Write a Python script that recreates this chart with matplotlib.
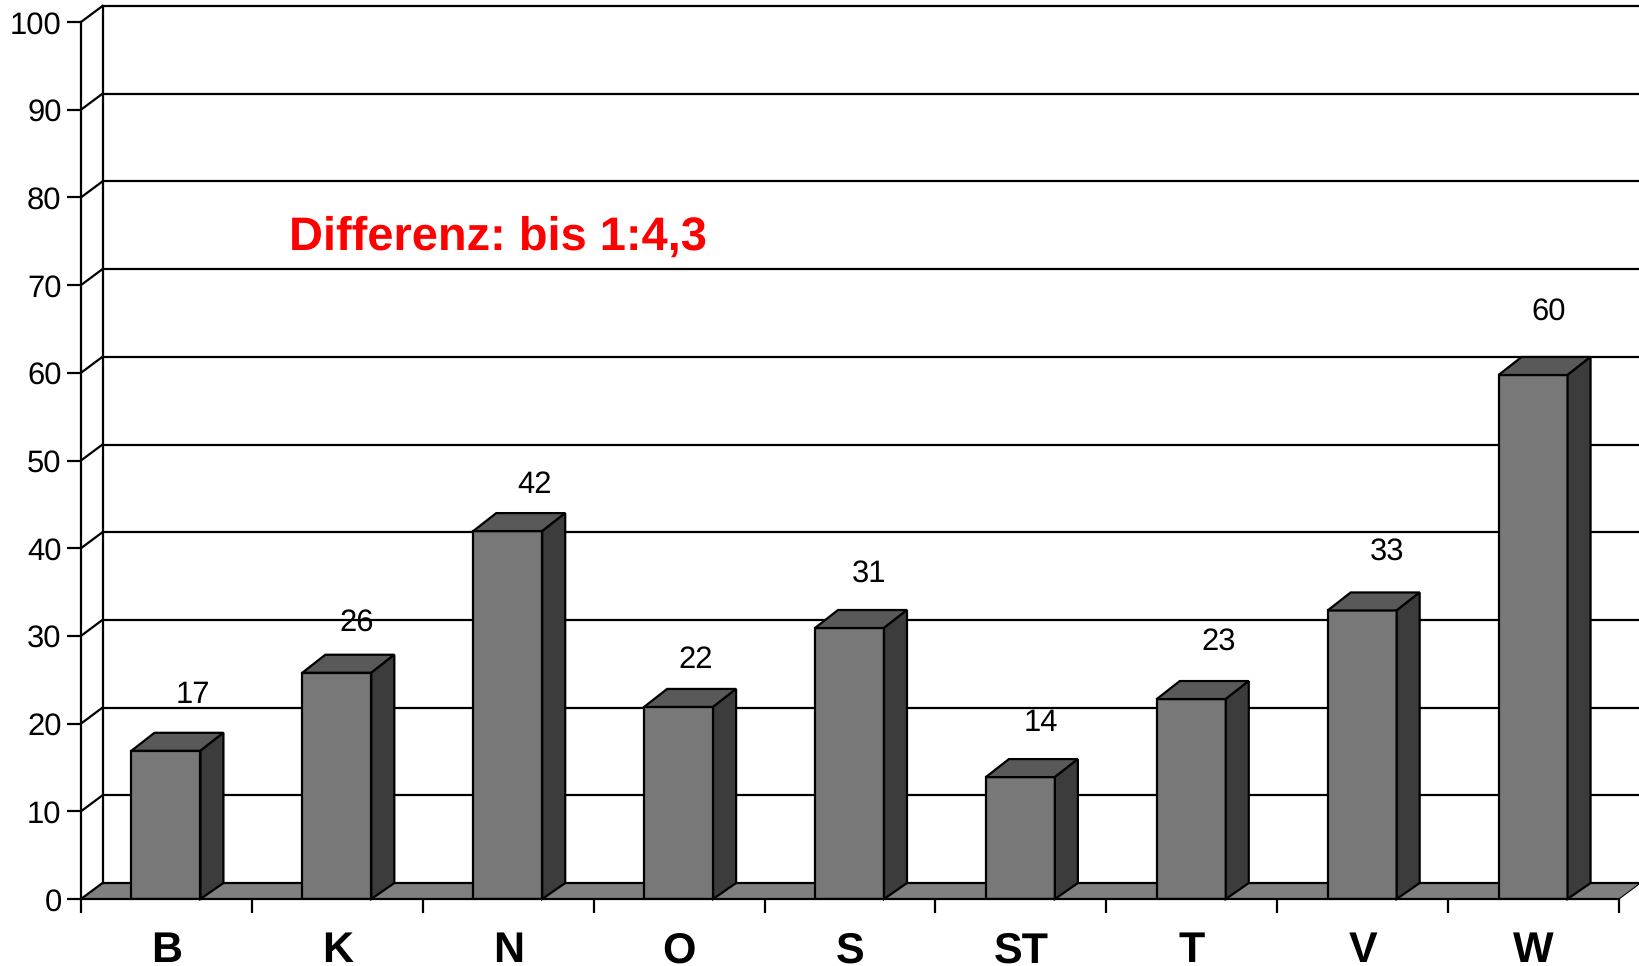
import matplotlib
matplotlib.use('Agg')
import matplotlib.pyplot as plt
from matplotlib.patches import Polygon
import numpy as np

# Valores
categorias = ['B', 'K', 'N', 'O', 'S', 'ST', 'T', 'V', 'W']
valores = [17, 26, 42, 22, 31, 14, 23, 33, 60]
alturas = [16.9, 25.8, 41.95, 21.9, 30.9, 13.9, 22.8, 32.9, 59.75]
titulo = 'Differenz: bis 1:4,3'

# Desplazamiento a mano de las etiquetas (pixeles)
etiqueta_dx = [26, 19.5, 26, 17, 19.5, 20, 27, 24, 15]
etiqueta_dy = [56, 50, 46, 47, 54, 54, 57, 58.5, 63.5]

plt.rcParams['font.family'] = ['Liberation Sans', 'DejaVu Sans']
plt.rcParams['text.hinting'] = 'no_hinting'
plt.rcParams['text.hinting_factor'] = 1

W, H = 1639, 966
fig = plt.figure(figsize=(W / 100, H / 100), dpi=100, facecolor='white')
ax = fig.add_axes([81 / W, (H - 899) / H, 1538 / W, 877 / H])
ax.set_xlim(0, 9)
ax.set_ylim(0, 100)
ax.patch.set_alpha(0)

# Profundidad del efecto 3D en unidades de datos
px_x = 9 / 1538
px_y = 100 / 877
dx = 21.5 * px_x
dy = 16 * px_y
dx_barra = 23 * px_x
dy_barra = 18 * px_y
lw = 1.6
ancho = 69 * px_x
negro = '#000000'

# Suelo
ax.add_patch(Polygon([(0, 0), (9, 0), (9 + dx, dy), (dx, dy)], closed=True, facecolor='#808080',
                     edgecolor='none', zorder=1, clip_on=False))
ax.plot([dx, 9 + dx], [dy, dy], color=negro, lw=lw, zorder=2, clip_on=False)
ax.plot([9, 9 + dx], [0, dy], color=negro, lw=lw * 0.5, zorder=2, clip_on=False)

# Pared del fondo
ax.plot([dx, dx], [dy, 100 + dy], color=negro, lw=lw, zorder=2, clip_on=False)
for v in range(0, 110, 10):
    ax.plot([0, dx], [v, v + dy], color=negro, lw=lw, zorder=2, clip_on=False)
    if v > 0:
        ax.plot([dx, 9 + dx], [v + dy, v + dy], color=negro, lw=lw, zorder=2, clip_on=False)

# Barras
x = np.arange(len(categorias)) + 0.5
ax.bar(x - 0.5 * px_x, alturas, width=ancho, color='#787878', edgecolor=negro, linewidth=lw, zorder=3)
for xi, h in zip(x - 0.5 * px_x, alturas):
    iz = xi - ancho / 2
    de = xi + ancho / 2
    ax.add_patch(Polygon([(iz, h), (de, h), (de + dx_barra, h + dy_barra), (iz + dx_barra, h + dy_barra)],
                         closed=True, facecolor='#595959', edgecolor=negro, linewidth=lw, zorder=3, clip_on=False))
    ax.add_patch(Polygon([(de, 0), (de + dx_barra, dy), (de + dx_barra, h + dy_barra), (de, h)],
                         closed=True, facecolor='#3c3c3c', edgecolor=negro, linewidth=lw, zorder=3, clip_on=False))

# Etiquetas de valor
for xi, h, v, ox, oy in zip(x, alturas, valores, etiqueta_dx, etiqueta_dy):
    ax.annotate(str(v), (xi, h), xytext=(ox, oy), textcoords='offset pixels', ha='center', va='center',
                fontsize=22.5, color=negro, zorder=5)

# Ejes
for s in ['top', 'right']:
    ax.spines[s].set_visible(False)
for s in ['left', 'bottom']:
    ax.spines[s].set_linewidth(lw)
    ax.spines[s].set_zorder(4)
ax.set_yticks(range(0, 110, 10))
ax.tick_params(axis='y', length=10, width=lw, pad=4, labelsize=22.5)
ax.set_xticks(range(0, 10))
ax.set_xticklabels([])
ax.set_xticks(x, categorias, minor=True, fontsize=31, fontweight='bold')
ax.tick_params(axis='x', which='major', length=10, width=lw)
ax.tick_params(axis='x', which='minor', length=0, pad=23)

ax.text(1.22, 75.4, titulo, color='#ff0000', fontsize=33.5, fontweight='bold', ha='left', va='center', zorder=5)

plt.savefig('out.png', dpi=100)
